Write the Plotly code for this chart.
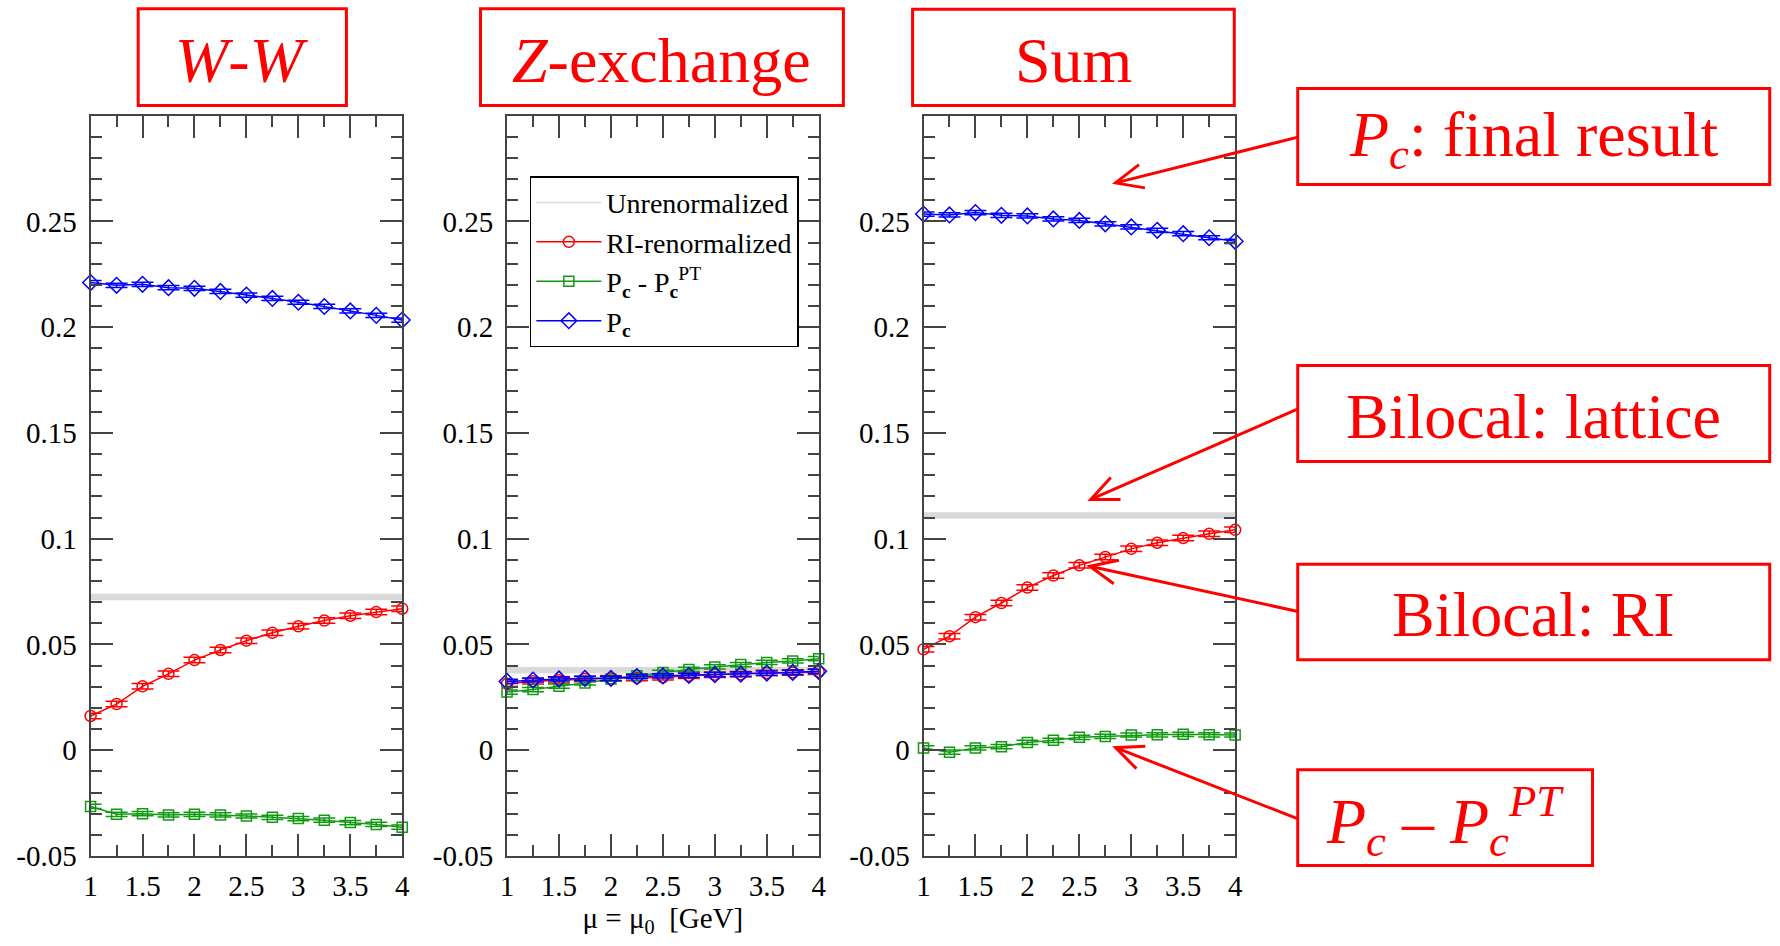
import math
import plotly.graph_objects as go

W, H = 1780, 946

# ---------------- data ----------------
mu = [1.0, 1.25, 1.5, 1.75, 2.0, 2.25, 2.5, 2.75, 3.0, 3.25, 3.5, 3.75, 4.0]

panels = ["W-W", "Z-exchange", "Sum"]

# unrenormalized (lattice bilocal) constant values
unren = [0.0725, 0.0378, 0.1110]

# RI-renormalized
ri_ww = [0.0162, 0.0218, 0.0302, 0.0361, 0.0426, 0.0474, 0.0518, 0.0555, 0.0586, 0.0613, 0.0636, 0.0653, 0.0669]
ri_z = [0.0314, 0.0326, 0.0331, 0.0337, 0.0340, 0.0342, 0.0345, 0.0352, 0.0357, 0.0359, 0.0365, 0.0368, 0.0371]
ri_sum = [0.0477, 0.0539, 0.0629, 0.0696, 0.0769, 0.0826, 0.0874, 0.0914, 0.0952, 0.0981, 0.1003, 0.1023, 0.1042]

# Pc - Pc^PT
diff_ww = [-0.0266, -0.0303, -0.0300, -0.0306, -0.0303, -0.0306, -0.0311, -0.0317, -0.0323, -0.0331, -0.0342, -0.0351, -0.0364]
diff_z = [0.0275, 0.0287, 0.0303, 0.0318, 0.0337, 0.0352, 0.0368, 0.0382, 0.0394, 0.0405, 0.0415, 0.0422, 0.0433]
diff_sum = [0.0011, -0.0009, 0.0011, 0.0017, 0.0037, 0.0047, 0.0061, 0.0065, 0.0072, 0.0073, 0.0075, 0.0073, 0.0072]

# Pc
pc_ww = [0.2211, 0.2198, 0.2203, 0.2187, 0.2184, 0.2169, 0.2152, 0.2136, 0.2118, 0.2098, 0.2077, 0.2056, 0.2034]
pc_z = [0.0325, 0.0332, 0.0337, 0.0340, 0.0340, 0.0348, 0.0351, 0.0354, 0.0357, 0.0360, 0.0365, 0.0368, 0.0373]
pc_sum = [0.2535, 0.2531, 0.2542, 0.2529, 0.2526, 0.2512, 0.2505, 0.2489, 0.2474, 0.2458, 0.2442, 0.2423, 0.2406]

# error estimates
err_ri = [0.0013, 0.0013, 0.0013, 0.0013, 0.0013, 0.0013, 0.0013, 0.0013, 0.0013, 0.0013, 0.0013, 0.0013, 0.0013]
err_diff = [0.0010, 0.0010, 0.0010, 0.0010, 0.0010, 0.0010, 0.0010, 0.0010, 0.0010, 0.0010, 0.0010, 0.0010, 0.0010]
err_pc = [0.0010, 0.0010, 0.0010, 0.0010, 0.0010, 0.0010, 0.0010, 0.0010, 0.0010, 0.0010, 0.0010, 0.0010, 0.0010]

x_tickvals = [1, 1.5, 2, 2.5, 3, 3.5, 4]
x_ticktext = ["1", "1.5", "2", "2.5", "3", "3.5", "4"]
y_tickvals = [-0.05, 0, 0.05, 0.1, 0.15, 0.2, 0.25]
y_ticktext = ["-0.05", "0", "0.05", "0.1", "0.15", "0.2", "0.25"]

ri_all = [ri_ww, ri_z, ri_sum]
diff_all = [diff_ww, diff_z, diff_sum]
pc_all = [pc_ww, pc_z, pc_sum]

# ---------------- styling ----------------
FONT = "Liberation Serif"
RED = "#ff0000"
GREEN = "#119a11"
BLUE = "#0000ff"
GRAY = "#d9d9d9"
AX = "#444444"

panel_left_px = [84.3, 504.3, 924.3]
panel_w_px = 314.3
y_dom = [1 - 870.7 / H, 1 - 117.7 / H]

fig = go.Figure()

for i in range(3):
    xa = "x" if i == 0 else f"x{i+1}"
    ya = "y" if i == 0 else f"y{i+1}"
    # unrenormalized band
    fig.add_trace(go.Scatter(
        x=[mu[0], mu[-1]], y=[unren[i], unren[i]], mode="lines",
        line=dict(color=GRAY, width=6.5), showlegend=False, hoverinfo="skip",
        xaxis=xa, yaxis=ya))
    series = [
        (ri_all[i], err_ri, RED, "circle-open", 11, "RI-renormalized", 2),
        (diff_all[i], err_diff, GREEN, "square-open", 10, "P<sub><b>c</b></sub> - P<sub><b>c</b></sub><sup>PT</sup>", 3),
        (pc_all[i], err_pc, BLUE, "diamond-open", 12, "P<sub><b>c</b></sub>", 4),
    ]
    for vals, err, col, sym, sz, name, rank in series:
        fig.add_trace(go.Scatter(
            x=mu, y=vals, mode="lines+markers", name=name,
            line=dict(color=col, width=1.5),
            marker=dict(symbol=sym, size=sz, color=col, line=dict(color=col, width=1.5)),
            error_y=dict(type="data", array=err, visible=True, color=col, thickness=1.5, width=11),
            cliponaxis=False, showlegend=(i == 1), legendrank=rank,
            xaxis=xa, yaxis=ya))

# legend-only entry for the unrenormalized line
fig.add_trace(go.Scatter(
    x=[None], y=[None], mode="lines", name="Unrenormalized",
    line=dict(color=GRAY, width=1.5), legendrank=1, xaxis="x2", yaxis="y2"))

tickfont = dict(family=FONT, size=29, color="black")

for i in range(3):
    l = panel_left_px[i] / W
    r = (panel_left_px[i] + panel_w_px) / W
    xkey = "xaxis" if i == 0 else f"xaxis{i+1}"
    ykey = "yaxis" if i == 0 else f"yaxis{i+1}"
    xanchor = "y" if i == 0 else f"y{i+1}"
    yanchor = "x" if i == 0 else f"x{i+1}"
    xdict = dict(
        domain=[l, r], range=[1, 4], anchor=xanchor,
        tickmode="array", tickvals=x_tickvals, ticktext=x_ticktext,
        ticks="inside", ticklen=22, tickwidth=1.5, tickcolor=AX,
        showline=True, linecolor=AX, linewidth=2, mirror="ticks",
        showgrid=False, zeroline=False, tickfont=tickfont,
        ticklabelstandoff=3,
        minor=dict(ticks="inside", ticklen=11, tickwidth=1.5, tickcolor=AX,
                   tickmode="linear", tick0=1, dtick=0.25, showgrid=False),
    )
    if i == 1:
        xdict["title"] = dict(text="\u03bc = \u03bc<sub>0</sub>  [GeV]",
                              font=dict(family=FONT, size=29, color="black"), standoff=6)
    ydict = dict(
        domain=y_dom, range=[-0.05, 0.30], anchor=yanchor,
        tickmode="array", tickvals=y_tickvals, ticktext=y_ticktext,
        ticks="inside", ticklen=22, tickwidth=1.5, tickcolor=AX,
        showline=True, linecolor=AX, linewidth=2, mirror="ticks",
        showgrid=False, zeroline=False, tickfont=tickfont,
        ticklabelstandoff=6,
        minor=dict(ticks="inside", ticklen=11, tickwidth=1.5, tickcolor=AX,
                   tickmode="linear", tick0=-0.05, dtick=0.01, showgrid=False),
    )
    fig.layout[xkey] = xdict
    fig.layout[ykey] = ydict


def px(xp):
    return xp / W


def py(yp):
    return 1 - yp / H


shapes = []
annotations = []

# title boxes and label boxes (pixel rectangles)
boxes = [
    ((132.3, 9, 342.3, 107.3), "<i>W</i>-<i>W</i>"),
    ((477.5, 9, 843.5, 107.3), "<i>Z</i>-exchange"),
    ((913.3, 9.3, 1237.7, 107.3), "Sum"),
    ((1301.7, 90, 1777.7, 187.7), "<i>P<sub>c</sub></i>: final result"),
    ((1301.7, 371.7, 1777.7, 469.5), "Bilocal: lattice"),
    ((1301.7, 574, 1777.7, 671), "Bilocal: RI"),
    ((1301.7, 783, 1599, 880.5), "<i>P<sub>c</sub></i> \u2013 <i>P<sub>c</sub><sup>PT</sup></i>"),
]
for (x0, y0, x1, y1), txt in boxes:
    shapes.append(dict(type="rect", xref="paper", yref="paper",
                       x0=px(x0), x1=px(x1), y0=py(y1), y1=py(y0),
                       line=dict(color=RED, width=3), fillcolor="white", layer="above"))
    annotations.append(dict(xref="paper", yref="paper", x=px((x0 + x1) / 2), y=py((y0 + y1) / 2 + 3),
                            xanchor="center", yanchor="middle", showarrow=False, text=txt,
                            font=dict(family=FONT, size=64, color=RED)))

# arrows: (tail, tip) in pixels
arrows = [
    ((1302, 139.5), (1118, 186)),
    ((1302, 416), (1093, 508)),
    ((1302, 622), (1092, 576)),
    ((1302, 833), (1118, 760.5)),
]
HEAD_LEN = 30
HEAD_ANG = math.radians(24)
for (tx, ty), (hx, hy) in arrows:
    shapes.append(dict(type="line", xref="paper", yref="paper",
                       x0=px(tx), y0=py(ty), x1=px(hx), y1=py(hy),
                       line=dict(color=RED, width=3)))
    ang = math.atan2(ty - hy, tx - hx)
    a1 = (hx + HEAD_LEN * math.cos(ang + HEAD_ANG), hy + HEAD_LEN * math.sin(ang + HEAD_ANG))
    a2 = (hx + HEAD_LEN * math.cos(ang - HEAD_ANG), hy + HEAD_LEN * math.sin(ang - HEAD_ANG))
    path = (f"M {px(a1[0])},{py(a1[1])} L {px(hx)},{py(hy)} L {px(a2[0])},{py(a2[1])}")
    shapes.append(dict(type="path", xref="paper", yref="paper", path=path,
                       line=dict(color=RED, width=3)))

fig.update_layout(
    width=W, height=H,
    margin=dict(l=0, r=0, t=0, b=0),
    paper_bgcolor="white", plot_bgcolor="white",
    shapes=shapes, annotations=annotations,
    showlegend=True,
    legend=dict(x=527.3 / W, y=1 - 179.3 / H, xanchor="left", yanchor="top",
                bgcolor="white", bordercolor="black", borderwidth=1.5,
                font=dict(family=FONT, size=28, color="black"),
                itemwidth=65, tracegroupgap=0),
    font=dict(family=FONT),
)

fig.write_html("out.html")
